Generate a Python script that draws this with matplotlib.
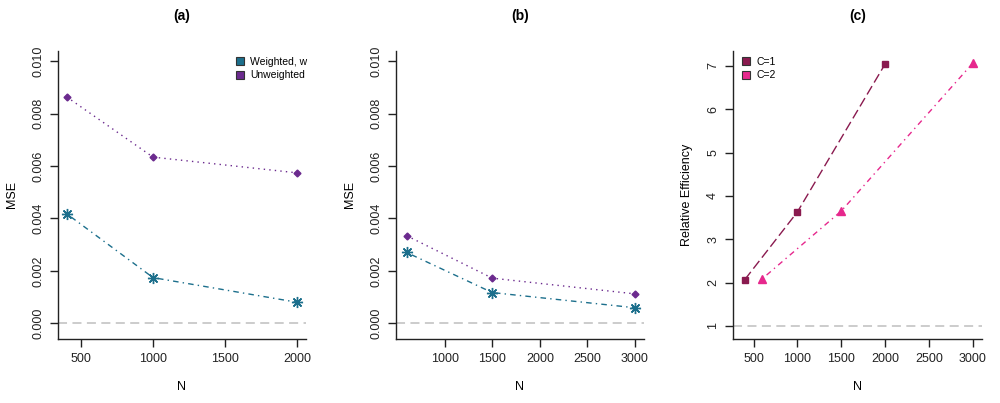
import matplotlib.pyplot as plt
from matplotlib.lines import Line2D

plt.rcParams['font.family'] = ['Liberation Sans', 'DejaVu Sans']

# panel (a)
n_a = [400, 1000, 2000]
weighted_a = [0.00418, 0.00174, 0.00080]
unweighted_a = [0.00864, 0.00634, 0.00574]

# panel (b)
n_b = [600, 1500, 3000]
weighted_b = [0.00270, 0.00117, 0.00059]
unweighted_b = [0.00334, 0.00172, 0.00112]

# panel (c)
n_c1 = [400, 1000, 2000]
eff_c1 = [2.07, 3.63, 7.04]
n_c2 = [600, 1500, 3000]
eff_c2 = [2.09, 3.65, 7.06]

col_w = '#1c6f8c'
col_u = '#6b2a8e'
col_c1 = '#8a1a4f'
col_c2 = '#e6288d'
grey = '#c8c8c8'

asterisk = (8, 2, 0)

fig = plt.figure(figsize=(10, 4.03), dpi=100)
ax_a = fig.add_axes([0.058, 0.159, 0.248, 0.715])
ax_b = fig.add_axes([0.396, 0.159, 0.248, 0.715])
ax_c = fig.add_axes([0.733, 0.159, 0.249, 0.715])


def style(ax, title, ylabel):
    for s in ['top', 'right']:
        ax.spines[s].set_visible(False)
    for s in ['left', 'bottom']:
        ax.spines[s].set_linewidth(1.0)
        ax.spines[s].set_color('#222222')
    ax.tick_params(direction='out', length=6, width=1, labelsize=9, pad=4,
                   color='#222222', labelcolor='#222222')
    for lab in ax.get_yticklabels():
        lab.set_rotation(90)
        lab.set_va('center')
    ax.set_title(title, fontweight='bold', fontsize=10, pad=22)
    ax.set_xlabel('N', fontsize=9, labelpad=12)
    ax.set_ylabel(ylabel, fontsize=9, labelpad=10)


# (a)
ax_a.axhline(0, color=grey, lw=1.3, ls=(0, (5, 3)), zorder=1)
ax_a.plot(n_a, weighted_a, color=col_w, lw=1, ls=(0, (1, 3, 4, 3)),
          marker=asterisk, ms=8, mew=1.0)
ax_a.plot(n_a, unweighted_a, color=col_u, lw=1, ls=(0, (1, 3)),
          marker='D', ms=3.5)
ax_a.set_xlim(340, 2062)
ax_a.set_ylim(-0.0006, 0.0104)
ax_a.set_xticks([500, 1000, 1500, 2000])
ax_a.set_yticks([0, 0.002, 0.004, 0.006, 0.008, 0.010])
ax_a.set_yticklabels(['0.000', '0.002', '0.004', '0.006', '0.008', '0.010'])
style(ax_a, '(a)', 'MSE')
handles_a = [
    Line2D([], [], ls='none', marker='s', ms=6, mfc=col_w, mec='#333333', mew=0.8),
    Line2D([], [], ls='none', marker='s', ms=6, mfc=col_u, mec='#333333', mew=0.8),
]
ax_a.legend(handles_a, ['Weighted, w', 'Unweighted'], frameon=False, fontsize=7.5,
            loc='upper left', bbox_to_anchor=(0.69, 1.0), handlelength=0.8,
            handletextpad=0.6, labelspacing=0.3, borderaxespad=0.2)

# (b)
ax_b.axhline(0, color=grey, lw=1.3, ls=(0, (5, 3)), zorder=1)
ax_b.plot(n_b, weighted_b, color=col_w, lw=1, ls=(0, (1, 3, 4, 3)),
          marker=asterisk, ms=8, mew=1.0)
ax_b.plot(n_b, unweighted_b, color=col_u, lw=1, ls=(0, (1, 3)),
          marker='D', ms=3.5)
ax_b.set_xlim(488, 3095)
ax_b.set_ylim(-0.0006, 0.0104)
ax_b.set_xticks([1000, 1500, 2000, 2500, 3000])
ax_b.set_yticks([0, 0.002, 0.004, 0.006, 0.008, 0.010])
ax_b.set_yticklabels(['0.000', '0.002', '0.004', '0.006', '0.008', '0.010'])
style(ax_b, '(b)', 'MSE')

# (c)
ax_c.axhline(1, color=grey, lw=1.3, ls=(0, (5, 3)), zorder=1)
ax_c.plot(n_c1, eff_c1, color=col_c1, lw=1, ls=(0, (7, 3)),
          marker='s', ms=5)
ax_c.plot(n_c2, eff_c2, color=col_c2, lw=1, ls=(0, (1, 3, 4, 3)),
          marker='^', ms=6)
ax_c.set_xlim(265, 3107)
ax_c.set_ylim(0.70, 7.35)
ax_c.set_xticks([500, 1000, 1500, 2000, 2500, 3000])
ax_c.set_yticks([1, 2, 3, 4, 5, 6, 7])
style(ax_c, '(c)', 'Relative Efficiency')
handles_c = [
    Line2D([], [], ls='none', marker='s', ms=6, mfc=col_c1, mec='#333333', mew=0.8),
    Line2D([], [], ls='none', marker='s', ms=6, mfc=col_c2, mec='#333333', mew=0.8),
]
ax_c.legend(handles_c, ['C=1', 'C=2'], frameon=False, fontsize=7.5,
            loc='upper left', bbox_to_anchor=(0.01, 1.0), handlelength=0.8,
            handletextpad=0.6, labelspacing=0.3, borderaxespad=0.2)

fig.savefig('out.png', dpi=100)
